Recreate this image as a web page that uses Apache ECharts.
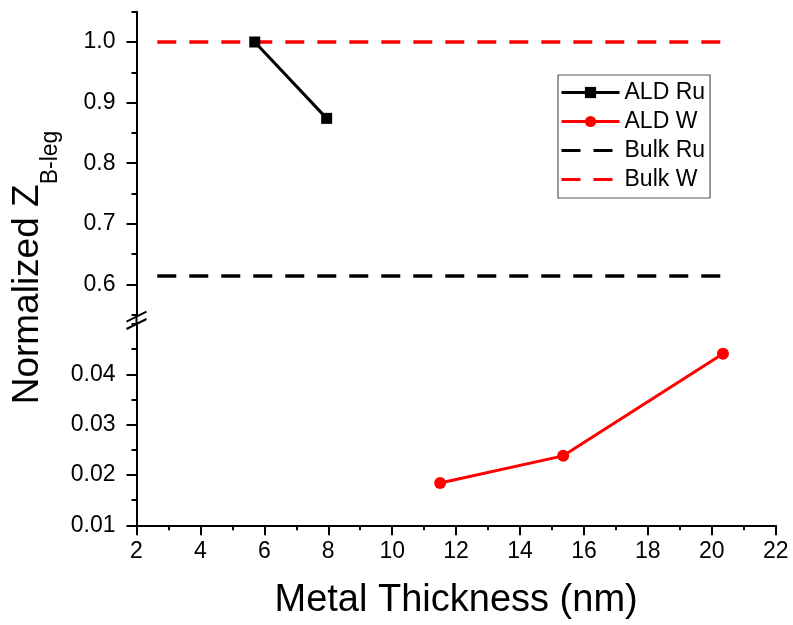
<!DOCTYPE html>
<html>
<head>
<meta charset="utf-8">
<script src="https://cdn.jsdelivr.net/npm/echarts@6/dist/echarts.min.js"></script>
<style>
  html, body { margin: 0; padding: 0; background: #fff; }
  #chart { width: 793px; height: 625px; }
</style>
</head>
<body>
<div id="chart"></div>
<script>
// Measured data: normalized Z (B-leg) vs metal thickness
const thicknessAldRu = [5.7, 7.95];
const zAldRu = [1.0, 0.874];
const thicknessAldW = [11.5, 15.35, 20.35];
const zAldW = [0.0184, 0.0238, 0.0441];
// Bulk reference levels, drawn across the measured thickness span
const bulkSpan = [2.65, 20.35];
const zBulkRu = 0.614;
const zBulkW = 1.0;

const seriesNames = ['ALD Ru', 'ALD W', 'Bulk Ru', 'Bulk W'];
const upperLabels = [0.6, 0.7, 0.8, 0.9, 1.0];
const lowerLabels = [0.01, 0.02, 0.03, 0.04];

const FONT = '"Liberation Sans", Arial, sans-serif';
const zip = (xs, ys) => xs.map((x, i) => [x, ys[i]]);
const flat = (xs, v) => xs.map(x => [x, v]);

const gridL = 136.5, gridR = 793 - 775.7;
const axisLineStyle = { color: '#000', width: 2 };
const hiddenSymbol = { color: 'rgba(0,0,0,0)', borderWidth: 0, opacity: 0 };

const chart = echarts.init(document.getElementById('chart'), null, { renderer: 'canvas' });

const option = {
  backgroundColor: '#fff',
  animation: false,
  grid: [
    { left: gridL, right: gridR, top: 11.7, height: 303 },
    { left: gridL, right: gridR, top: 324, height: 201.3 }
  ],
  xAxis: [
    { gridIndex: 0, type: 'value', min: 2, max: 22, interval: 2, show: false },
    {
      gridIndex: 1, type: 'value', min: 2, max: 22, interval: 2, position: 'bottom',
      axisLine: { show: true, onZero: false, lineStyle: axisLineStyle },
      axisTick: { show: true, length: 10, lineStyle: { color: '#000', width: 2 } },
      minorTick: { show: true, splitNumber: 2, length: 5, lineStyle: { color: '#000', width: 2 } },
      splitLine: { show: false },
      axisLabel: { color: '#000', fontSize: 23, fontFamily: FONT, margin: 15 },
      name: 'Metal Thickness (nm)',
      nameLocation: 'middle',
      nameGap: 56,
      nameTextStyle: { color: '#000', fontSize: 38, fontFamily: FONT }
    }
  ],
  yAxis: [
    {
      gridIndex: 0, type: 'value', min: 0.55, max: 1.05, interval: 0.05, position: 'left',
      axisLine: { show: true, onZero: false, lineStyle: axisLineStyle },
      axisTick: { show: true, length: 10, customValues: upperLabels, lineStyle: { color: '#000', width: 2 } },
      axisLabel: { color: '#000', fontSize: 23, fontFamily: FONT, margin: 21, customValues: upperLabels,
                   formatter: v => v.toFixed(1) },
      splitLine: { show: false }
    },
    {
      gridIndex: 0, type: 'value', min: 0.55, max: 1.05, interval: 0.05, position: 'left', offset: 0,
      axisLine: { show: false },
      axisTick: { show: true, length: 5, lineStyle: { color: '#000', width: 2 } },
      axisLabel: { show: false },
      splitLine: { show: false }
    },
    {
      gridIndex: 1, type: 'value', min: 0.01, max: 0.05, interval: 0.005, position: 'left',
      axisLine: { show: true, onZero: false, lineStyle: axisLineStyle },
      axisTick: { show: true, length: 10, customValues: lowerLabels, lineStyle: { color: '#000', width: 2 } },
      axisLabel: { color: '#000', fontSize: 23, fontFamily: FONT, margin: 21, customValues: lowerLabels,
                   formatter: v => v.toFixed(2) },
      splitLine: { show: false }
    },
    {
      gridIndex: 1, type: 'value', min: 0.01, max: 0.05, interval: 0.005, position: 'left', offset: 0,
      axisLine: { show: false },
      axisTick: { show: true, length: 5, lineStyle: { color: '#000', width: 2 } },
      axisLabel: { show: false },
      splitLine: { show: false }
    }
  ],
  legend: {
    data: [
      { name: seriesNames[0] },
      { name: seriesNames[1] },
      { name: seriesNames[2], itemStyle: hiddenSymbol },
      { name: seriesNames[3], itemStyle: hiddenSymbol }
    ],
    orient: 'vertical',
    left: 558, top: 75,
    padding: [3, 5, 4, 2],
    itemWidth: 58, itemHeight: 14, itemGap: 0,
    borderColor: '#555', borderWidth: 1.2, borderRadius: 0,
    textStyle: { color: '#000', fontSize: 23, fontFamily: FONT, lineHeight: 29 },
    lineStyle: { width: 3 }
  },
  series: [
    {
      name: 'ALD Ru', type: 'line', xAxisIndex: 0, yAxisIndex: 0,
      data: zip(thicknessAldRu, zAldRu),
      symbol: 'rect', symbolSize: 11,
      itemStyle: { color: '#000' },
      lineStyle: { color: '#000', width: 3 }
    },
    {
      name: 'ALD W', type: 'line', xAxisIndex: 1, yAxisIndex: 2,
      data: zip(thicknessAldW, zAldW),
      symbol: 'circle', symbolSize: 12,
      itemStyle: { color: '#ff0000' },
      lineStyle: { color: '#ff0000', width: 3 }
    },
    {
      name: 'Bulk Ru', type: 'line', xAxisIndex: 0, yAxisIndex: 0,
      data: flat(bulkSpan, zBulkRu),
      symbol: 'none',
      itemStyle: { color: '#000' },
      lineStyle: { color: '#000', width: 3.5, type: [19, 13] }
    },
    {
      name: 'Bulk W', type: 'line', xAxisIndex: 0, yAxisIndex: 0,
      data: flat(bulkSpan, zBulkW),
      symbol: 'none',
      itemStyle: { color: '#ff0000' },
      lineStyle: { color: '#ff0000', width: 3.5, type: [19, 13] }
    }
  ]
};

chart.setOption(option);

// Axis break marks and the rotated y-axis title with subscript
const xAxisPx = chart.convertToPixel({ xAxisIndex: 1 }, 2);
const upperEnd = chart.convertToPixel({ yAxisIndex: 0 }, 0.55);
const lowerEnd = chart.convertToPixel({ yAxisIndex: 2 }, 0.05);
const breakMark = (cy) => ({
  type: 'line',
  shape: { x1: xAxisPx - 10, y1: cy + 5, x2: xAxisPx + 10, y2: cy - 5 },
  style: { stroke: '#000', lineWidth: 2 },
  z: 100
});
chart.setOption({
  graphic: [
    { type: 'rect', shape: { x: xAxisPx - 1, y: upperEnd, width: 2, height: lowerEnd - upperEnd },
      style: { fill: '#000' }, z: 99 },
    breakMark(upperEnd + 2),
    breakMark(lowerEnd),
    {
      type: 'text',
      x: 35.5, y: 267.5,
      rotation: Math.PI / 2,
      style: {
        text: '{a|Normalized Z}{b|B-leg}',
        align: 'center',
        verticalAlign: 'middle',
        fill: '#000',
        rich: {
          a: { fontSize: 37, fontFamily: FONT, fill: '#000', lineHeight: 44, verticalAlign: 'top' },
          b: { fontSize: 23, fontFamily: FONT, fill: '#000', padding: [30, 0, 0, 0] }
        }
      },
      z: 100
    }
  ]
});
</script>
</body>
</html>
